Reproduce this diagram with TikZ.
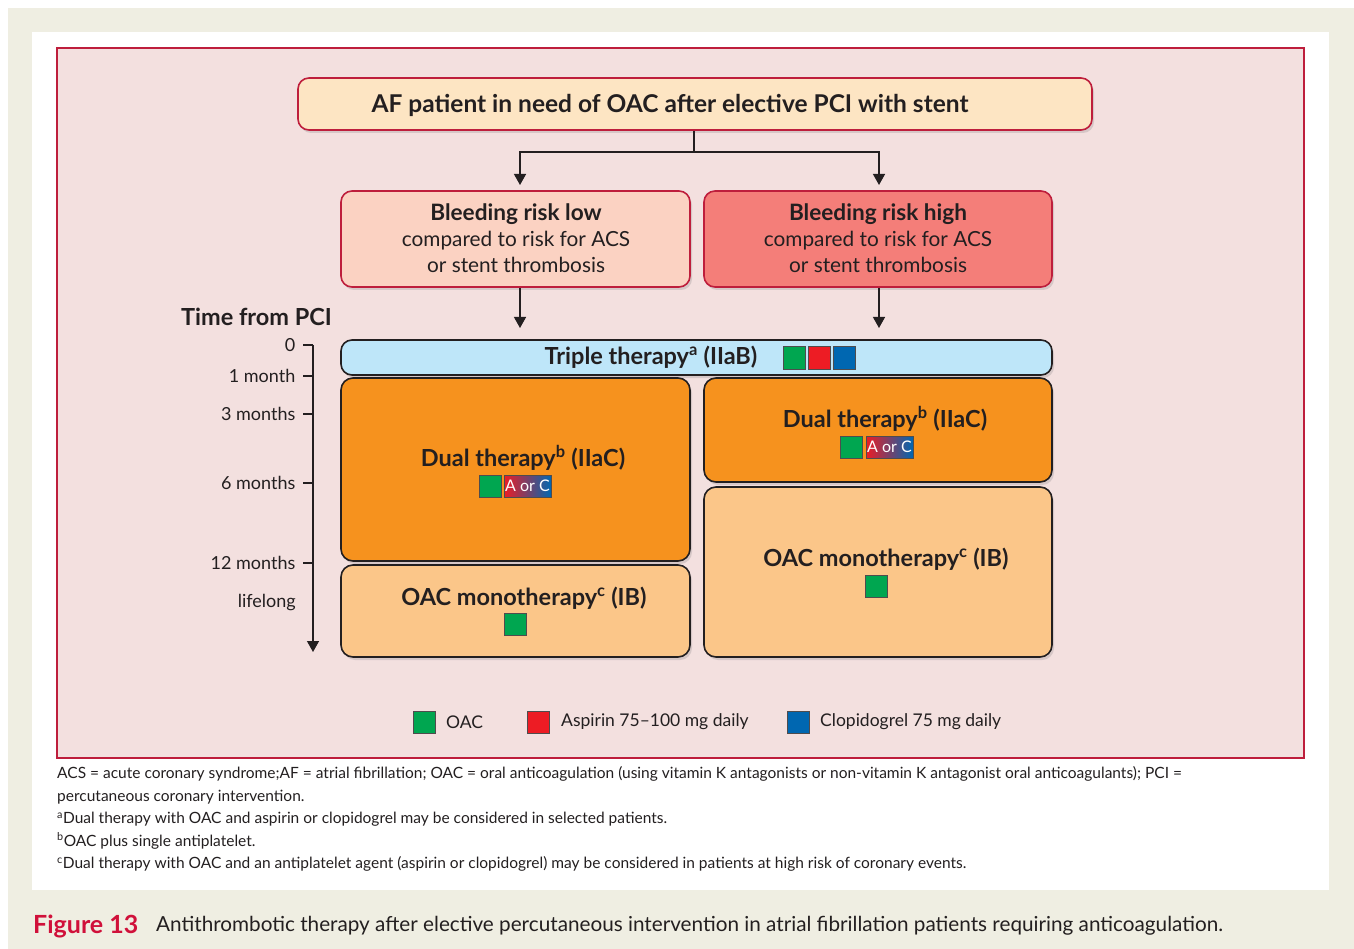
\documentclass[tikz,border=0pt]{standalone}
\usepackage{fontspec}
\setmainfont{Lato}
\usetikzlibrary{shadows,arrows.meta}
\definecolor{crim}{HTML}{BE1E3C}
\definecolor{ink}{HTML}{231F20}
\definecolor{beige}{HTML}{EFEEE2}
\definecolor{panel}{HTML}{F3E0DF}
\definecolor{peach}{HTML}{FDE5C3}
\definecolor{lowc}{HTML}{FBD2C2}
\definecolor{highc}{HTML}{F47E79}
\definecolor{tripc}{HTML}{BEE6F9}
\definecolor{orng}{HTML}{F6921E}
\definecolor{lorng}{HTML}{FBC689}
\definecolor{oacg}{HTML}{00A650}
\definecolor{aspr}{HTML}{ED1C24}
\definecolor{clob}{HTML}{0067B1}
\definecolor{figred}{HTML}{D0103A}
\newcommand{\fs}[1]{\fontsize{#1}{#1}\selectfont}
\tikzset{
  redbox/.style={draw=crim, line width=1.6pt, rounded corners=11pt,
    drop shadow={shadow xshift=2pt, shadow yshift=-3pt, opacity=0.25}},
  blkbox/.style={draw=ink, line width=1.6pt, rounded corners=12pt,
    drop shadow={shadow xshift=2pt, shadow yshift=-3pt, opacity=0.25}},
  arr/.style={draw=ink, line width=1.3pt, -{Triangle[width=12pt,length=11pt]}},
  sq/.style={draw=ink!80, line width=1pt, minimum width=22pt, minimum height=22pt, inner sep=0pt},
  aorc/.style={draw=ink!80, line width=1pt, minimum width=47pt, minimum height=22pt, inner sep=0pt,
    left color=aspr, right color=clob, text=white, font=\fs{16}},
  ttl/.style={font=\bfseries\fs{23.5}, text=ink, inner sep=0pt},
  tlab/.style={font=\fs{18}, text=ink, anchor=east, inner sep=0pt},
  leg/.style={font=\fs{17.5}, text=ink, anchor=west, inner sep=0pt},
  foot/.style={font=\fs{15.5}, text=ink, anchor=west, inner sep=0pt},
}
\begin{document}
\begin{tikzpicture}[x=1pt,y=-1pt]
\useasboundingbox (0,0) rectangle (1354,949);
\fill[white] (0,0) rectangle (1354,949);
\fill[beige] (8,8) rectangle (1354,949);
\fill[white] (32,32) rectangle (1329,890);
\draw[crim, line width=1.5pt, fill=panel] (57,48) rectangle (1304,758);

% top box
\node[redbox, fill=peach, minimum width=794pt, minimum height=52pt] (top) at (695,104) {};
\node[font=\bfseries\fs{24.5}, text=ink, inner sep=0pt] (toptxt) at (670,105) {AF patient in need of OAC after elective PCI with stent};

% bleeding boxes
\node[redbox, fill=lowc, minimum width=349pt, minimum height=96pt] (low) at (515.5,239) {};
\node[text=ink, align=center, font=\fs{20.8}, inner sep=0pt] (lowtxt) at (516,238)
  {{\bfseries\fs{22.6}Bleeding risk low}\\[5pt]compared to risk for ACS\\[5pt]or stent thrombosis};
\node[redbox, fill=highc, minimum width=348pt, minimum height=96pt] (high) at (878,239) {};
\node[text=ink, align=center, font=\fs{20.8}, inner sep=0pt] (hightxt) at (878,238)
  {{\bfseries\fs{22.6}Bleeding risk high}\\[5pt]compared to risk for ACS\\[5pt]or stent thrombosis};

% connectors
\coordinate (br) at (694,152);
\coordinate (la) at (520,185);
\coordinate (ha) at (879,185);
\draw[ink, line width=1.3pt] (top.south -| br) -- (br);
\draw[arr] (br) -| (la);
\draw[arr] (br) -| (ha);

% therapy boxes
\node[blkbox, fill=tripc, minimum width=711pt, minimum height=35pt, rounded corners=11pt] (trip) at (696.5,357.5) {};
\node[blkbox, fill=orng, minimum width=349pt, minimum height=183pt] (ldual) at (515.5,469.5) {};
\node[blkbox, fill=lorng, minimum width=349pt, minimum height=92pt] (loac) at (515.5,611) {};
\node[blkbox, fill=orng, minimum width=348pt, minimum height=104pt] (rdual) at (878,430) {};
\node[blkbox, fill=lorng, minimum width=348pt, minimum height=170pt] (roac) at (878,572) {};

\coordinate (lt) at (520,328);
\coordinate (ht) at (879,328);
\draw[arr] (low.south -| lt) -- (lt);
\draw[arr] (high.south -| ht) -- (ht);

% triple therapy text
\node[ttl] (triptxt) at (651,357) {Triple therapy\textsuperscript{a} (IIaB)};
\node[sq, fill=oacg] (tg) at (794.5,358) {};
\node[sq, fill=aspr] (tr) at (819.5,358) {};
\node[sq, fill=clob] (tb) at (844.5,358) {};

% left dual
\node[ttl] (ldtxt) at (523,458) {Dual therapy\textsuperscript{b} (IIaC)};
\node[sq, fill=oacg] (ldg) at (490,486) {};
\node[aorc] (ldac) at (527.5,486) {A or C};
% left oac
\node[ttl] (lotxt) at (524,598) {OAC monotherapy\textsuperscript{c} (IB)};
\node[sq, fill=oacg] (log) at (515,624) {};
% right dual
\node[ttl] (rdtxt) at (885,419) {Dual therapy\textsuperscript{b} (IIaC)};
\node[sq, fill=oacg] (rdg) at (851,447) {};
\node[aorc] (rdac) at (889.5,447) {A or C};
% right oac
\node[ttl] (rotxt) at (886,559) {OAC monotherapy\textsuperscript{c} (IB)};
\node[sq, fill=oacg] (rog) at (876.5,586) {};

% time axis
\node[font=\bfseries\fs{23.5}, text=ink, anchor=east, inner sep=0pt] (tpci) at (332,317) {Time from PCI};
\coordinate (t0) at (313,345);
\coordinate (tend) at (313,652);
\draw[arr] (t0) -- (tend);
\foreach \y/\l in {345/0, 376/1 month, 414/3 months, 483/6 months, 563/12 months}{
  \draw[ink, line width=1.3pt] (313,\y) -- (303,\y) node[tlab, xshift=-7pt] {\l};
}
\node[tlab] (life) at (296,603) {lifelong};

% legend
\node[sq, fill=oacg] (lg1) at (424.5,722) {};
\node[leg] (lt1) at (446,722) {OAC};
\node[sq, fill=aspr] (lg2) at (538.5,722) {};
\node[leg] (lt2) at (561,722) {Aspirin 75–100 mg daily};
\node[sq, fill=clob] (lg3) at (798.5,722) {};
\node[leg] (lt3) at (820,722) {Clopidogrel 75 mg daily};

% footnotes
\node[foot] (f1) at (57,774) {ACS = acute coronary syndrome;AF = atrial fibrillation; OAC = oral anticoagulation (using vitamin K antagonists or non-vitamin K antagonist oral anticoagulants); PCI =};
\node[foot] (f2) at (57,797) {percutaneous coronary intervention.};
\node[foot] (f3) at (57,819) {\textsuperscript{a}Dual therapy with OAC and aspirin or clopidogrel may be considered in selected patients.};
\node[foot] (f4) at (57,841) {\textsuperscript{b}OAC plus single antiplatelet.};
\node[foot] (f5) at (57,864) {\textsuperscript{c}Dual therapy with OAC and an antiplatelet agent (aspirin or clopidogrel) may be considered in patients at high risk of coronary events.};

% caption
\node[anchor=west, inner sep=0pt, font=\bfseries\fs{25}, text=figred] (figl) at (33,926) {Figure 13};
\node[anchor=west, inner sep=0pt, font=\fs{20.7}, text=ink] (figt) at (156,926) {Antithrombotic therapy after elective percutaneous intervention in atrial fibrillation patients requiring anticoagulation.};
\end{tikzpicture}
\end{document}
